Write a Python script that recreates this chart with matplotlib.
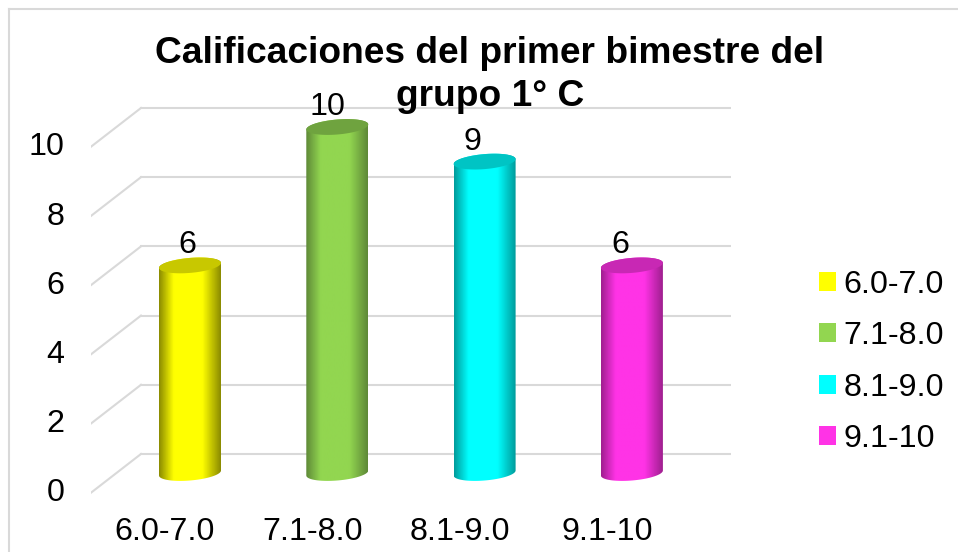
import matplotlib
matplotlib.use('Agg')
import matplotlib.pyplot as plt
import numpy as np
from matplotlib.lines import Line2D
from matplotlib.patches import Patch, PathPatch
from matplotlib.path import Path
from matplotlib.colors import LinearSegmentedColormap

W, H = 958, 552

categories = ['6.0-7.0', '7.1-8.0', '8.1-9.0', '9.1-10']
values = [6, 10, 9, 6]
y_ticks = [0, 2, 4, 6, 8, 10]
title_lines = ['Calificaciones del primer bimestre del', 'grupo 1° C']

body_colors = ['#FFFF00', '#92D650', '#00FFFF', '#FF33E6']
edge_colors = ['#8C8C00', '#5F8A38', '#009C9C', '#A01F90']
top_colors = ['#C8C800', '#6FA33F', '#00C4C4', '#C828B4']
label_shift = [-3, -10, -12, -12]

plt.rcParams['font.family'] = ['Liberation Sans', 'DejaVu Sans']
FS = 23.2

fig = plt.figure(figsize=(W / 100, H / 100), dpi=100)

# plot area in pixels, one category = 147.3 px, one unit = 34.6 px
left, right, top, bottom = 91, 731, 95, 497
base = 473
ax = fig.add_axes([left / W, 1 - bottom / H, (right - left) / W, (bottom - top) / H])
xlim = ((left - 190) / 147.3, (right - 190) / 147.3)
ylim = ((base - bottom) / 34.6, (base - top) / 34.6)
for s in ax.spines.values():
    s.set_visible(False)
ax.patch.set_alpha(0)

# chart frame, only top and left edges fall inside the image
fig.add_artist(Line2D([8.5 / W, 1], [1 - 8.5 / H, 1 - 8.5 / H], color='#D9D9D9', lw=1.5))
fig.add_artist(Line2D([8.5 / W, 8.5 / W], [0, 1 - 8.5 / H], color='#D9D9D9', lw=1.5))

# back wall and side wall gridlines
px_x = 147.3
back_x = xlim[0] + 50 / px_x
for v in y_ticks:
    ax.plot([back_x, xlim[1]], [v + 0.55, v + 0.55], color='#D9D9D9', lw=1.5, zorder=1)
    ax.plot([xlim[0], back_x], [v - 0.57, v + 0.55], color='#D9D9D9', lw=1.5, zorder=1)

# cylinders
cyl_a, cyl_b, cyl_k = 31 / px_x, 7.5 / 34.6, 2.5 / 34.6
t = np.linspace(0, 2 * np.pi, 80)
for i, v in enumerate(values):
    cmap = LinearSegmentedColormap.from_list('c', [edge_colors[i], body_colors[i], body_colors[i], edge_colors[i]])
    # shading stays dark only near the rims, a bit wider on the right
    grad = np.concatenate([np.linspace(0, 0.33, 24), np.linspace(0.33, 0.67, 46), np.linspace(0.67, 1, 30)])
    im = ax.imshow(grad[None, :], extent=[i - cyl_a, i + cyl_a, -1, v + 1], aspect='auto', cmap=cmap,
                   zorder=3, interpolation='bilinear')
    tb = np.linspace(np.pi, 2 * np.pi, 40)
    low_x = i + cyl_a * np.cos(tb)
    low_y = cyl_b * np.sin(tb) + cyl_k * np.cos(tb)
    tt = np.linspace(0, np.pi, 40)
    up_x = i + cyl_a * np.cos(tt)
    up_y = v + cyl_b * np.sin(tt) + cyl_k * np.cos(tt)
    outline = np.column_stack([np.r_[low_x, up_x], np.r_[low_y, up_y]])
    clip = PathPatch(Path(np.vstack([outline, outline[:1]])), transform=ax.transData, fc='none', ec='none')
    ax.add_patch(clip)
    im.set_clip_path(clip)
    ax.fill(i + cyl_a * np.cos(t), v + cyl_b * np.sin(t) + cyl_k * np.cos(t), color=top_colors[i], lw=0, zorder=4)
    ax.annotate(str(v), (i, v), xytext=(label_shift[i] * 0.72, 20 * 0.72), textcoords='offset points',
                ha='center', va='center', fontsize=FS, color='black', zorder=6)

ax.set_xlim(xlim)
ax.set_ylim(ylim)

# axis labels sit on the front edge of the floor, left of the cylinders
ax.set_xticks([i - 25 / px_x for i in range(len(categories))], categories)
ax.set_yticks([v - 0.49 for v in y_ticks], [str(v) for v in y_ticks])
ax.tick_params(axis='both', length=0, labelsize=FS)
ax.tick_params(axis='x', pad=14.5)
ax.tick_params(axis='y', pad=19)

for line, y_px in zip(title_lines, [63, 106]):
    fig.text(490 / W, 1 - y_px / H, line, ha='center', va='baseline', fontsize=26.7, fontweight='bold', zorder=10)

handles = [Patch(fc=c, ec='none') for c in body_colors]
fig.legend(handles, categories, loc='center left', bbox_to_anchor=(819 / W, 1 - 362 / H), frameon=False,
           fontsize=FS, handlelength=0.53, handleheight=0.53, handletextpad=0.22, labelspacing=0.66,
           borderpad=0, borderaxespad=0)

fig.savefig('out.png', dpi=100)
